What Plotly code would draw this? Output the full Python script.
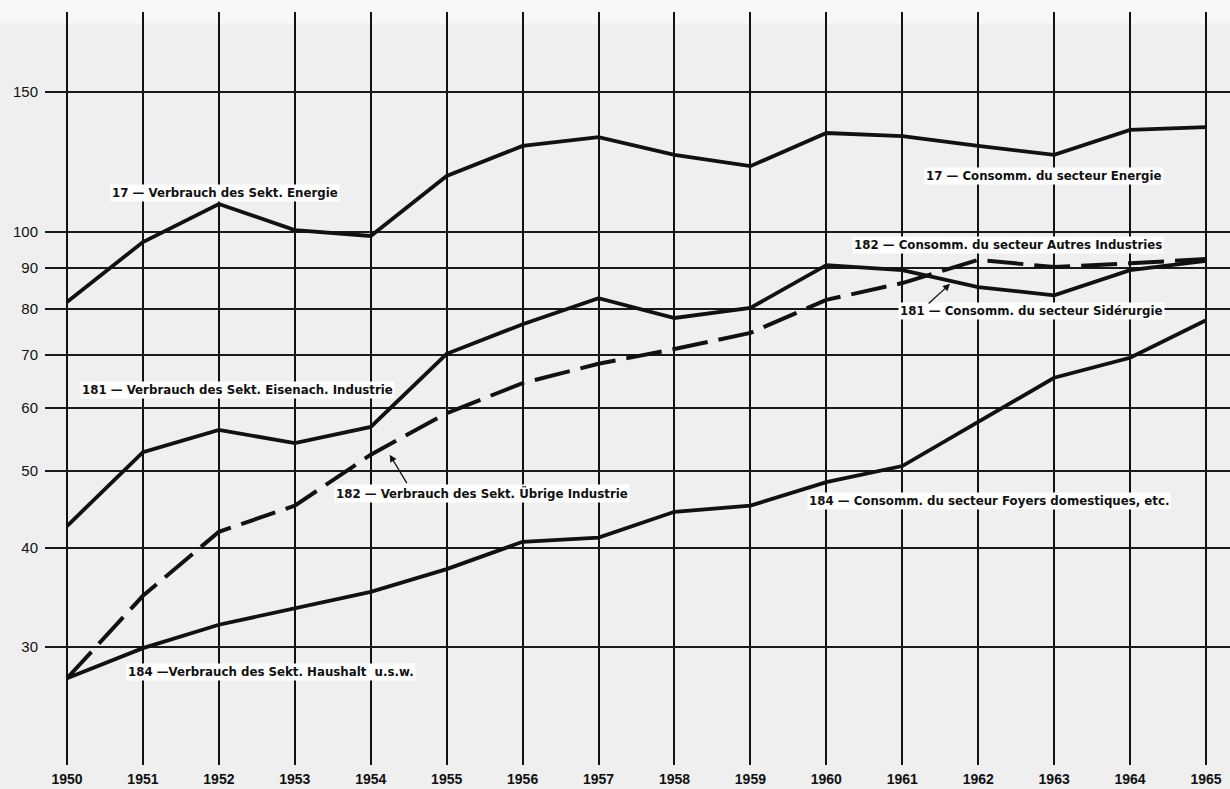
import math
import plotly.graph_objects as go

# Years on the horizontal axis
years = list(range(1950, 1966))

# Consumption indices by sector (log scale)
energie_17 = [81.6, 97.1, 108.4, 100.5, 98.8, 117.6, 128.3, 131.6,
              125.0, 121.0, 133.2, 132.0, 128.3, 125.0, 134.4, 135.5]
eisen_181 = [42.6, 52.8, 56.3, 54.2, 56.8, 70.2, 76.5, 82.5,
             77.9, 80.2, 90.8, 89.5, 85.2, 83.2, 89.5, 91.9]
uebrige_182 = [27.4, 34.8, 41.9, 45.2, 52.4, 59.1, 64.5, 68.2,
               71.2, 74.6, 82.1, 86.2, 92.2, 90.3, 91.3, 92.4]
haushalt_184 = [27.4, 29.9, 32.0, 33.6, 35.2, 37.6, 40.7, 41.2,
                44.4, 45.2, 48.4, 50.7, 57.6, 65.5, 69.4, 77.4]

y_ticks = [30, 40, 50, 60, 70, 80, 90, 100, 150]
x_ticks = years

BG = "#efefef"
INK = "#111111"

fig = go.Figure()

solid = dict(color=INK, width=3.8)
fig.add_trace(go.Scatter(x=years, y=energie_17, mode="lines", line=solid,
                         name="17", hoverinfo="x+y"))
fig.add_trace(go.Scatter(x=years, y=eisen_181, mode="lines", line=solid,
                         name="181", hoverinfo="x+y"))
fig.add_trace(go.Scatter(x=years, y=uebrige_182, mode="lines",
                         line=dict(color=INK, width=4, dash="36px,11px"),
                         name="182", hoverinfo="x+y"))
fig.add_trace(go.Scatter(x=years, y=haushalt_184, mode="lines", line=solid,
                         name="184", hoverinfo="x+y"))

label_font = dict(family="DejaVu Sans, Liberation Sans, sans-serif", size=11.8,
                  color=INK, weight="bold")

# label text, year position, index level (annotations on a log axis take log10)
labels = [
    ("17 \u2014 Verbrauch des Sekt. Energie", 1952.08, 111.9),
    ("17 \u2014 Consomm. du secteur Energie", 1962.87, 117.6),
    ("182 \u2014 Consomm. du secteur Autres Industries", 1962.39, 96.2),
    ("181 \u2014 Consomm. du secteur Sid\u00e9rurgie", 1962.70, 79.6),
    ("181 \u2014 Verbrauch des Sekt. Eisenach. Industrie", 1952.25, 63.2),
    ("182 \u2014 Verbrauch des Sekt. \u00dcbrige Industrie", 1955.47, 46.8),
    ("184 \u2014 Consomm. du secteur Foyers domestiques, etc.", 1962.14, 45.8),
    ("184 \u2014Verbrauch des Sekt. Haushalt  u.s.w.", 1952.69, 27.9),
]

annotations = []
for text, xv, yv in labels:
    annotations.append(dict(
        text=text, x=xv, y=math.log10(yv), xref="x", yref="y",
        showarrow=False, font=label_font,
        bgcolor="white", borderpad=1,
    ))

# Pointer arrows from labels to their curves
for xv, yv, ax, ay in [(1961.63, 86.0, -23, 21), (1954.25, 52.4, 18, 30)]:
    annotations.append(dict(
        text="", x=xv, y=math.log10(yv), xref="x", yref="y",
        showarrow=True, arrowhead=2, arrowsize=1.1, arrowwidth=1.3,
        arrowcolor=INK, ax=ax, ay=ay, axref="pixel", ayref="pixel",
        standoff=0, startstandoff=0,
    ))

fig.update_layout(
    width=1230, height=789,
    margin=dict(l=45, r=0, t=12, b=24),
    paper_bgcolor=BG, plot_bgcolor=BG,
    showlegend=False,
    annotations=annotations,
    xaxis=dict(
        range=[1949.71, 1965.316],
        tickvals=x_ticks,
        ticktext=[str(y) for y in x_ticks],
        showgrid=True, gridcolor=INK, gridwidth=2.2,
        zeroline=False, showline=False, ticks="",
        tickfont=dict(family="Liberation Sans Narrow, Liberation Sans, sans-serif",
                      size=14, color=INK, weight="bold"),
        ticklabelstandoff=4,
    ),
    yaxis=dict(
        type="log",
        range=[1.3285, 2.2769],
        tickvals=y_ticks,
        ticktext=[str(v) for v in y_ticks],
        showgrid=True, gridcolor="#1a1a1a", gridwidth=1.5,
        zeroline=False, showline=False, ticks="",
        tickfont=dict(family="Liberation Sans, Arial, sans-serif", size=15, color=INK),
        ticklabelstandoff=6,
    ),
    shapes=[
        # lighter bands of the paper sheet
        dict(type="rect", xref="paper", yref="paper", layer="below",
             x0=-0.05, x1=1.0, y0=0.985, y1=1.02,
             fillcolor="#f7f7f7", line=dict(width=0)),
        dict(type="rect", xref="x", yref="y", layer="below",
             x0=1962.55, x1=1963.6, y0=math.log10(22.3), y1=math.log10(26.6),
             fillcolor="#f7f7f7", line=dict(width=0)),
    ],
)

fig.write_html("out.html")
